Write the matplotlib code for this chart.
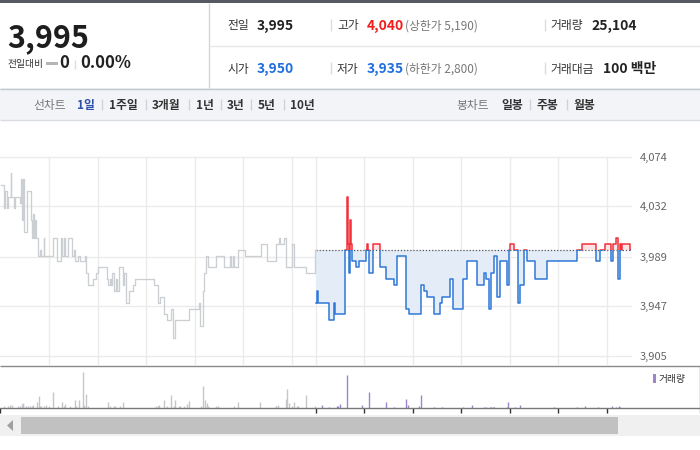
import numpy as np
import matplotlib
matplotlib.use("Agg")
import matplotlib.pyplot as plt
from matplotlib.patches import Rectangle, Polygon

plt.rcParams['font.family'] = ['Noto Sans CJK KR', 'DejaVu Sans']

# ---------------- data ----------------
prev_close = 3995
open_price = 3950
high_price = 4040
low_price = 3935
upper_limit = 5190
lower_limit = 2800
day_volume = 25104
day_amount = 100          # 백만
change = 0
change_pct = 0.00

price_ticks = [3905, 3947, 3989, 4032, 4074]
hour_ticks = [60, 120, 180, 240, 300, 360, 390, 450, 510, 570, 630, 690, 750]
session_minutes = 390

period_tabs = ['1일', '1주일', '3개월', '1년', '3년', '5년', '10년']
candle_tabs = ['일봉', '주봉', '월봉']

# previous session: minutes after 09:00 and price from that minute on
prev_t = [0, 4, 5, 8, 9, 12, 13, 16, 17, 24, 25, 26, 27, 29, 32, 37, 38, 40, 41, 42, 43,
          46, 48, 50, 53, 54, 64, 70, 74, 76, 78, 79, 83, 88, 90, 92, 95, 98, 104, 105, 108,
          114, 118, 120, 131, 133, 135, 136, 138, 140, 142, 144, 146, 151, 153, 155, 159, 163,
          166, 189, 195, 197, 202, 206, 211, 213, 216, 233, 245, 246, 247, 250, 252, 254, 256,
          257, 266, 276, 284, 285, 287, 289, 293, 302, 322, 329, 340, 344, 345, 351, 353, 360,
          363, 378, 389, 390]
prev_p = [4050, 4030, 4045, 4030, 4040, 4060, 4040, 4030, 4040, 4035, 4055, 4020, 4055, 4010,
          4045, 4020, 4005, 4025, 4005, 4020, 4005, 3990, 3995, 3990, 4005, 3990, 4005, 3985,
          4005, 3990, 4005, 3990, 4005, 3990, 3995, 3985, 3990, 3985, 3990, 3975, 3965, 3970,
          3975, 3980, 3970, 3965, 3970, 3965, 3975, 3960, 3970, 3960, 3980, 3965, 3975, 3950,
          3960, 3965, 3970, 3965, 3950, 3955, 3940, 3935, 3945, 3920, 3935, 3945, 3950, 3945,
          3930, 3960, 3975, 3990, 3985, 3980, 3990, 3980, 3990, 3980, 3990, 3980, 3995, 3990,
          4000, 3985, 4000, 4005, 4000, 4005, 3980, 4000, 3980, 3975, 3995, 3995]

# today's session
today_t = [0, 1, 2, 3, 16, 23, 24, 36, 38, 39, 40, 41, 42, 43, 45, 50, 53, 62, 63, 65, 66,
           71, 79, 87, 97, 100, 111, 115, 130, 134, 138, 146, 153, 156, 166, 170, 182, 187,
           200, 208, 210, 214, 217, 220, 224, 228, 237, 239, 240, 245, 250, 253, 257, 261,
           271, 286, 323, 329, 347, 352, 358, 365, 368, 372, 374, 376, 378, 379, 389, 390]
today_p = [3950, 3960, 3955, 3950, 3935, 3950, 3940, 3995, 4000, 4040, 4000, 3975, 4020, 4000,
           3985, 3980, 3985, 3995, 4000, 3995, 3975, 4000, 3980, 3970, 3965, 3990, 3945, 3940,
           3965, 3960, 3955, 3940, 3950, 3955, 3970, 3945, 3970, 3985, 3965, 3975, 3970, 3945,
           3975, 3990, 3955, 3985, 3965, 3995, 4000, 3995, 3950, 3965, 3995, 3985, 3970, 3985,
           3995, 4000, 3985, 3995, 4000, 3985, 4000, 4005, 3970, 4000, 3995, 4000, 3995, 3995]

# volume (shares per minute)
prev_vol_t = [4, 9, 11, 14, 21, 24, 26, 27, 28, 31, 34, 36, 38, 40, 45, 47, 49, 50, 54, 56,
              60, 65, 71, 76, 78, 80, 86, 92, 93, 97, 102, 103, 106, 108, 133, 135, 140, 141,
              148, 151, 192, 194, 196, 202, 206, 211, 214, 215, 220, 222, 227, 231, 233, 248,
              250, 253, 255, 256, 266, 269, 289, 294, 321, 340, 341, 343, 353, 354, 357, 360,
              363, 366, 368, 378, 389]
prev_vol = [410, 410, 590, 590, 300, 410, 720, 770, 900, 410, 300, 300, 300, 590, 1030, 2110,
            410, 410, 410, 590, 300, 2830, 300, 1030, 300, 720, 300, 1490, 300, 1390, 6480, 590,
            2570, 300, 1030, 300, 300, 300, 300, 1030, 300, 300, 590, 1390, 300, 2390, 300, 1490,
            300, 300, 410, 770, 1210, 300, 3910, 1390, 900, 410, 300, 300, 300, 1130, 1130, 300,
            410, 590, 1620, 3470, 900, 410, 1030, 300, 300, 2390, 410]
today_vol_t = [8, 16, 26, 27, 30, 39, 57, 66, 87, 97, 112, 114, 128, 130, 146, 156, 182, 193,
               208, 211, 215, 217, 219, 221, 237, 238, 246, 252, 295, 323, 333, 349, 366, 372,
               375, 377]
today_vol = [490, 230, 300, 300, 670, 5990, 590, 2880, 1030, 230, 1620, 590, 410, 2390, 230,
             230, 230, 590, 230, 230, 230, 230, 230, 230, 230, 1030, 230, 590, 230, 230, 410,
             230, 410, 230, 410, 230]

# ---------------- figure ----------------
W, H = 700, 450
fig = plt.figure(figsize=(7, 4.5), dpi=100)
fig.patch.set_facecolor('white')


def fr(x0, y0, x1, y1):
    return [x0 / W, 1 - y1 / H, (x1 - x0) / W, (y1 - y0) / H]


bg = fig.add_axes([0, 0, 1, 1])
bg.set_xlim(0, W)
bg.set_ylim(H, 0)
bg.axis('off')

# header
bg.add_patch(Rectangle((0, 0), 700, 3, fc='#555a62', ec='none'))
bg.vlines(208.5, 3, 88, colors='#d6d6d6', lw=1)
bg.hlines(45.5, 208.5, 700, colors='#e8e8e8', lw=1)

TXT = '#333333'
VAL = '#222222'
RED = '#f21d1d'
BLUE = '#1f6fe0'

bg.text(7, 47, f"{prev_close:,}", fontsize=22, fontweight='bold', color='#1e1e1e', va='baseline')
bg.text(7, 67, '전일대비', fontsize=7, color=TXT, va='baseline')
bg.add_patch(Rectangle((46, 61.5), 12, 3, fc='#b4b4b4', ec='none'))
bg.text(59, 68, f"{change}", fontsize=12, fontweight='bold', color=VAL, va='baseline')
bg.vlines(74.5, 60, 69, colors='#dddddd', lw=1)
bg.text(80, 68, f"{change_pct:.2f}%", fontsize=12, fontweight='bold', color=VAL, va='baseline')

rows = [29.5, 72.5]
bg.text(227.5, rows[0], '전일', fontsize=8.5, color=TXT, va='baseline')
bg.text(257, rows[0], f"{prev_close:,}", fontsize=10, fontweight='bold', color=VAL, va='baseline')
bg.text(337, rows[0], '고가', fontsize=8.5, color=TXT, va='baseline')
bg.text(367, rows[0], f"{high_price:,}", fontsize=10, fontweight='bold', color=RED, va='baseline')
bg.text(405, rows[0], f"(상한가 {upper_limit:,})", fontsize=8.5, color='#777777', va='baseline')
bg.text(550, rows[0], '거래량', fontsize=8.5, color=TXT, va='baseline')
bg.text(591, rows[0], f"{day_volume:,}", fontsize=10, fontweight='bold', color=VAL, va='baseline')

bg.text(227.5, rows[1], '시가', fontsize=8.5, color=TXT, va='baseline')
bg.text(257, rows[1], f"{open_price:,}", fontsize=10, fontweight='bold', color=BLUE, va='baseline')
bg.text(337, rows[1], '저가', fontsize=8.5, color=TXT, va='baseline')
bg.text(367, rows[1], f"{low_price:,}", fontsize=10, fontweight='bold', color=BLUE, va='baseline')
bg.text(405, rows[1], f"(하한가 {lower_limit:,})", fontsize=8.5, color='#777777', va='baseline')
bg.text(550, rows[1], '거래대금', fontsize=8.5, color=TXT, va='baseline')
bg.text(603, rows[1], f"{day_amount} 백만", fontsize=10, fontweight='bold', color=VAL, va='baseline')
for yb in rows:
    bg.vlines([330.5, 544.5], yb - 11, yb + 1, colors='#dcdcdc', lw=1)

# tab bar
bg.add_patch(Rectangle((0, 88), 700, 31.5, fc='#f2f4f7', ec='none'))
bg.hlines(88.5, 0, 700, colors='#c3c7ce', lw=1)
bg.hlines(119.5, 0, 700, colors='#d9dce1', lw=1)
tb = 109.5
bg.text(33, tb, '선차트', fontsize=8.5, color='#777777', va='baseline')
tab_x = [77, 109, 152, 196, 227, 258, 290]
for i, (lab, x) in enumerate(zip(period_tabs, tab_x)):
    bg.text(x, tb, lab, fontsize=8.5, fontweight='bold',
            color='#2d4fa8' if i == 0 else TXT, va='baseline')
bg.vlines([101.5, 145.5, 188.5, 220.5, 250.5, 283.5], 99, 110, colors='#cfd2d8', lw=1)
bg.text(456, tb, '봉차트', fontsize=8.5, color='#777777', va='baseline')
for lab, x in zip(candle_tabs, [501, 537, 573]):
    bg.text(x, tb, lab, fontsize=8.5, fontweight='bold', color=TXT, va='baseline')
bg.vlines([529.5, 566.5], 99, 110, colors='#cfd2d8', lw=1)

# ---------------- price panel ----------------
xmin, xmax = -1, 2 * session_minutes
ax = fig.add_axes(fr(0, 156.7, 631, 365))
ax.set_facecolor('none')
ax.set_xlim(xmin, xmax)
ax.set_ylim(3897, 4074)
for s in ax.spines.values():
    s.set_visible(False)
ax.set_xticks(hour_ticks)
ax.set_yticks(price_ticks)
ax.set_yticklabels([f"{v:,}" for v in price_ticks])
ax.yaxis.tick_right()
ax.tick_params(length=0)
ax.tick_params(axis='x', labelbottom=False)
ax.tick_params(axis='y', labelsize=8, labelcolor='#666666', pad=6.5)
ax.set_axisbelow(True)
ax.grid(True, color='#ebebeb', lw=1)
for gl in ax.get_ygridlines():
    gl.set_clip_on(False)

ax.plot(prev_t, prev_p, drawstyle='steps-post', color='#cbced2', lw=0.95, zorder=3)

tt = session_minutes + np.array(today_t)
tp = np.array(today_p)
ax.fill_between(tt, np.minimum(tp, prev_close), prev_close, step='post',
                color='#e4ecf8', lw=0, zorder=1)
ax.fill_between(tt, np.maximum(tp, prev_close), prev_close, step='post',
                color='#fde4e4', lw=0, zorder=1)
ax.hlines(prev_close, tt[0], tt[-1], colors='#555555', linestyles=(0, (1, 1.5)), lw=0.9, zorder=2)

ylo, yhi = ax.get_ylim()
below = Rectangle((xmin, ylo - 50), xmax - xmin, prev_close - ylo + 50, transform=ax.transData)
above = Rectangle((xmin, prev_close), xmax - xmin, yhi - prev_close + 50, transform=ax.transData)
lb, = ax.plot(tt, tp, drawstyle='steps-post', color='#2f78d8', lw=1.1, zorder=4)
lb.set_clip_path(below)
lr, = ax.plot(tt, tp, drawstyle='steps-post', color='#f0303a', lw=1.1, zorder=4)
lr.set_clip_path(above)

bg.hlines(365.5, 0, 700, colors='#8a8a8a', lw=1)

# ---------------- volume panel ----------------
vax = fig.add_axes(fr(0, 366, 699, 408))
vax.set_facecolor('none')
vax.set_xlim(xmin, xmin + (xmax - xmin) * 699 / 631)
vax.set_ylim(0, 7560)
for k, s in vax.spines.items():
    s.set_visible(k == 'bottom')
vax.spines['bottom'].set_color('#777777')
vax.spines['bottom'].set_linewidth(1)
vax.vlines(prev_vol_t, 0, prev_vol, colors='#c3c6ca', lw=1)
vax.vlines(session_minutes + np.array(today_vol_t), 0, today_vol, colors='#9a86c8', lw=1)
vax.set_xticks([xmin] + hour_ticks[6:])
vax.set_yticks([])
vax.tick_params(axis='x', direction='out', length=3.6, width=1, color='#333333',
                labelbottom=False)
bg.vlines(699.5, 366, 413, colors='#8a8a8a', lw=1)

bg.add_patch(Rectangle((653, 374), 3, 9, fc='#9a86c8', ec='none'))
bg.text(659, 382, '거래량', fontsize=7, color=TXT, va='baseline')

# ---------------- scrollbar ----------------
bg.add_patch(Rectangle((0, 415), 700, 21, fc='#f0f0f0', ec='none'))
bg.add_patch(Rectangle((21, 417), 597, 17, fc='#c1c1c1', ec='none'))
bg.add_patch(Polygon([(7, 425.5), (13, 420), (13, 431)], closed=True, fc='#a0a0a0', ec='none'))

fig.savefig('out.png', dpi=100)
